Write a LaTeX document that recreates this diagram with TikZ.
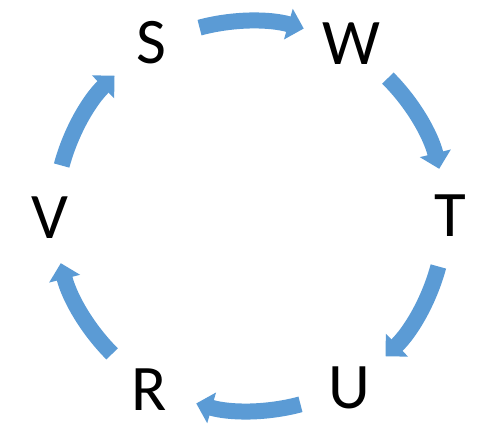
\documentclass[tikz,border=0pt]{standalone}
\usepackage{fontspec}
\setmainfont{Carlito}
\usetikzlibrary{arrows.meta}
\definecolor{cycblue}{HTML}{5B9BD5}
\tikzset{
  letter/.style={inner sep=0pt, anchor=base, font=\fontsize{65pt}{70pt}\selectfont},
  cycarrow/.style={draw=cycblue, line width=16pt, -{Triangle[width=31pt,length=16pt]}}
}
\begin{document}
\begin{tikzpicture}
\useasboundingbox (0pt,0pt) rectangle (492pt,433pt);
\coordinate (C) at (250pt,217pt);
% letters: image centre (x,y) -> base at (x, 433-y-21)
\node[letter] (S) at (151pt,369pt) {S};
\node[letter] (W) at (351pt,368pt) {W};
\node[letter] (T) at (450pt,196pt) {T};
\node[letter] (U) at (349pt,24pt) {U};
\node[letter] (R) at (149pt,22pt) {R};
\node[letter] (V) at (50pt,194pt) {V};
% arrows
\foreach \a in {105,45,-15,-75,-135,165}{
  \draw[cycarrow] ([shift={(\a:195pt)}]C) arc[start angle=\a, end angle=\a-31, radius=195pt];
}
\end{tikzpicture}
\end{document}
